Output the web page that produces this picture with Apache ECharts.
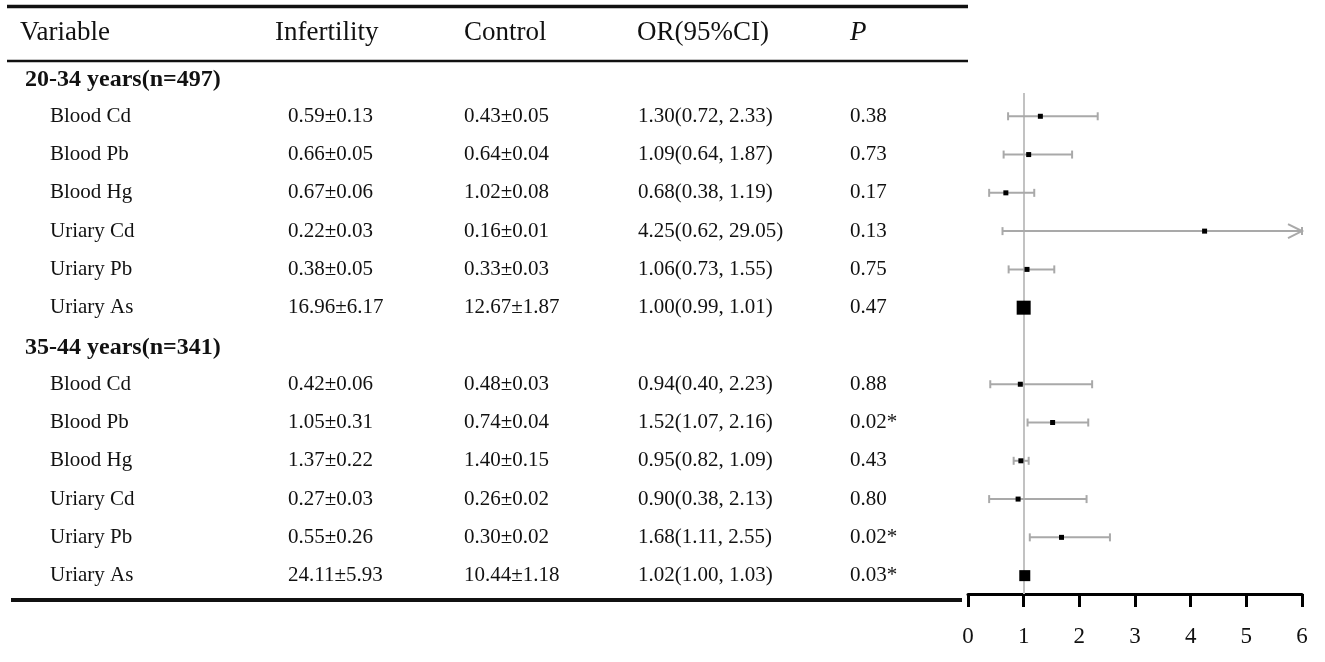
<!DOCTYPE html>
<html>
<head>
<meta charset="utf-8">
<title>Forest plot</title>
<script src="https://cdn.jsdelivr.net/npm/echarts@6/dist/echarts.min.js"></script>
<style>
  html, body { margin: 0; padding: 0; background: #fff; }
  #chart-box { width: 1325px; height: 662px; }
</style>
</head>
<body>
<div id="chart-box"></div>
<script>
var groups = ['20-34 years(n=497)', '35-44 years(n=341)'];
var variables = ['Blood Cd', 'Blood Pb', 'Blood Hg', 'Uriary Cd', 'Uriary Pb', 'Uriary As'];
var headers = ['Variable', 'Infertility', 'Control', 'OR(95%CI)', 'P'];

var infMean = [[0.59, 0.66, 0.67, 0.22, 0.38, 16.96], [0.42, 1.05, 1.37, 0.27, 0.55, 24.11]];
var infSd   = [[0.13, 0.05, 0.06, 0.03, 0.05, 6.17],  [0.06, 0.31, 0.22, 0.03, 0.26, 5.93]];
var ctlMean = [[0.43, 0.64, 1.02, 0.16, 0.33, 12.67], [0.48, 0.74, 1.40, 0.26, 0.30, 10.44]];
var ctlSd   = [[0.05, 0.04, 0.08, 0.01, 0.03, 1.87],  [0.03, 0.04, 0.15, 0.02, 0.02, 1.18]];

var orVal = [[1.30, 1.09, 0.68, 4.25, 1.06, 1.00], [0.94, 1.52, 0.95, 0.90, 1.68, 1.02]];
var orLow = [[0.72, 0.64, 0.38, 0.62, 0.73, 0.99], [0.40, 1.07, 0.82, 0.38, 1.11, 1.00]];
var orHigh = [[2.33, 1.87, 1.19, 29.05, 1.55, 1.01], [2.23, 2.16, 1.09, 2.13, 2.55, 1.03]];
var pVal = [[0.38, 0.73, 0.17, 0.13, 0.75, 0.47], [0.88, 0.02, 0.43, 0.80, 0.02, 0.03]];

// square size of each point estimate
var markSize = [[5, 5, 5, 5, 5, 14], [5, 5, 5, 5, 5, 11]];

var xTicks = [0, 1, 2, 3, 4, 5, 6];

// layout: row 0 = first group title, pitch in px
var rowTop = 78, rowPitch = 38.28;
function toRow(py) { return (py - rowTop) / rowPitch; }
var headerRow = toRow(32.5);
var colX = [50, 288, 464, 638, 850];
var headX = [20, 275, 464, 637, 850];
var groupX = 25;
var FONT = '"Liberation Serif", "Times New Roman", serif';
var INK = '#111';

function f2(v) { return v.toFixed(2); }

// build table cells and forest rows
var headCells = [], groupCells = [], bodyCells = [];
var barData = [], pointData = [];

headers.forEach(function(h, i) {
    headCells.push({ x: headX[i], row: headerRow, text: h, italic: i === 4 });
});

groups.forEach(function(g, gi) {
    var base = gi * 7;
    groupCells.push({ x: groupX, row: base + 0.05, text: g });
    variables.forEach(function(v, k) {
        var row = base + 1 + k;
        var p = pVal[gi][k];
        bodyCells.push({ x: colX[0], row: row, text: v });
        bodyCells.push({ x: colX[1], row: row, text: f2(infMean[gi][k]) + '±' + f2(infSd[gi][k]) });
        bodyCells.push({ x: colX[2], row: row, text: f2(ctlMean[gi][k]) + '±' + f2(ctlSd[gi][k]) });
        bodyCells.push({ x: colX[3], row: row, text: f2(orVal[gi][k]) + '(' + f2(orLow[gi][k]) + ', ' + f2(orHigh[gi][k]) + ')' });
        bodyCells.push({ x: colX[4], row: row, text: f2(p) + (p < 0.05 ? '*' : '') });
        barData.push([orLow[gi][k], orHigh[gi][k], row]);
        pointData.push([orVal[gi][k], row, markSize[gi][k]]);
    });
});

function textSeries(cells, size, weight) {
    return {
        type: 'custom',
        xAxisIndex: 0,
        yAxisIndex: 0,
        silent: true,
        data: cells.map(function(c) { return [c.x, c.row]; }),
        renderItem: function(params, api) {
            var c = cells[params.dataIndex];
            var pt = api.coord([api.value(0), api.value(1)]);
            return {
                type: 'text',
                x: pt[0],
                y: pt[1],
                style: {
                    text: c.text,
                    fill: INK,
                    font: (c.italic ? 'italic ' : '') + weight + ' ' + size + 'px ' + FONT,
                    align: 'left',
                    verticalAlign: 'middle'
                }
            };
        }
    };
}

var xMax = 6;
var chart = echarts.init(document.getElementById('chart-box'));

var option = {
    animation: false,
    backgroundColor: '#fff',
    grid: [
        // table area, covers the whole canvas
        { left: 0, top: 0, width: 1325, height: 662 },
        // forest plot
        { left: 968, top: 93, width: 334, height: 501 }
    ],
    xAxis: [
        { gridIndex: 0, type: 'value', min: 0, max: 1325, show: false },
        {
            gridIndex: 1,
            type: 'value',
            min: 0,
            max: xMax,
            interval: 1,
            axisLine: { show: true, lineStyle: { color: '#000', width: 3 } },
            axisTick: { show: true, length: 13, lineStyle: { color: '#000', width: 3 } },
            axisLabel: {
                color: INK,
                fontFamily: FONT,
                fontSize: 23,
                margin: 31,
                formatter: function(v) { return xTicks.indexOf(v) >= 0 ? String(v) : ''; }
            },
            splitLine: { show: false }
        }
    ],
    yAxis: [
        { gridIndex: 0, type: 'value', inverse: true, min: toRow(0), max: toRow(662), show: false },
        { gridIndex: 1, type: 'value', inverse: true, min: toRow(93), max: toRow(594), show: false }
    ],
    graphic: [
        { type: 'line', shape: { x1: 7, y1: 6.5, x2: 968, y2: 6.5 }, style: { stroke: INK, lineWidth: 3.5 } },
        { type: 'line', shape: { x1: 7, y1: 61, x2: 968, y2: 61 }, style: { stroke: INK, lineWidth: 2.5 } },
        { type: 'line', shape: { x1: 11, y1: 600, x2: 962, y2: 600 }, style: { stroke: INK, lineWidth: 4 } }
    ],
    series: [
        textSeries(headCells, 27, 'normal'),
        textSeries(groupCells, 24, 'bold'),
        textSeries(bodyCells, 21, 'normal'),
        {
            // confidence intervals
            type: 'custom',
            xAxisIndex: 1,
            yAxisIndex: 1,
            silent: true,
            encode: { x: [0, 1], y: 2 },
            data: barData,
            renderItem: function(params, api) {
                var lo = api.value(0), hi = api.value(1), row = api.value(2);
                var a = api.coord([lo, row]);
                var b = api.coord([Math.min(hi, xMax), row]);
                var st = { stroke: '#a9a9a9', lineWidth: 2, fill: null };
                var kids = [
                    { type: 'line', shape: { x1: a[0], y1: a[1], x2: b[0], y2: b[1] }, style: st },
                    { type: 'line', shape: { x1: a[0], y1: a[1] - 4, x2: a[0], y2: a[1] + 4 }, style: st },
                    { type: 'line', shape: { x1: b[0], y1: b[1] - 4, x2: b[0], y2: b[1] + 4 }, style: st }
                ];
                if (hi > xMax) {
                    kids.push({
                        type: 'polyline',
                        shape: { points: [[b[0] - 14, b[1] - 7], [b[0], b[1]], [b[0] - 14, b[1] + 7]] },
                        style: st
                    });
                }
                return { type: 'group', children: kids };
            },
            markLine: {
                silent: true,
                z: 1,
                symbol: ['none', 'none'],
                label: { show: false },
                lineStyle: { color: '#c2c2c2', width: 2, type: 'solid' },
                data: [{ xAxis: 1 }]
            },
            z: 2
        },
        {
            // point estimates
            type: 'scatter',
            xAxisIndex: 1,
            yAxisIndex: 1,
            silent: true,
            symbol: 'rect',
            symbolSize: function(v) { return v[2]; },
            itemStyle: { color: '#000', opacity: 1 },
            data: pointData,
            z: 10
        }
    ]
};

chart.setOption(option);
</script>
</body>
</html>
